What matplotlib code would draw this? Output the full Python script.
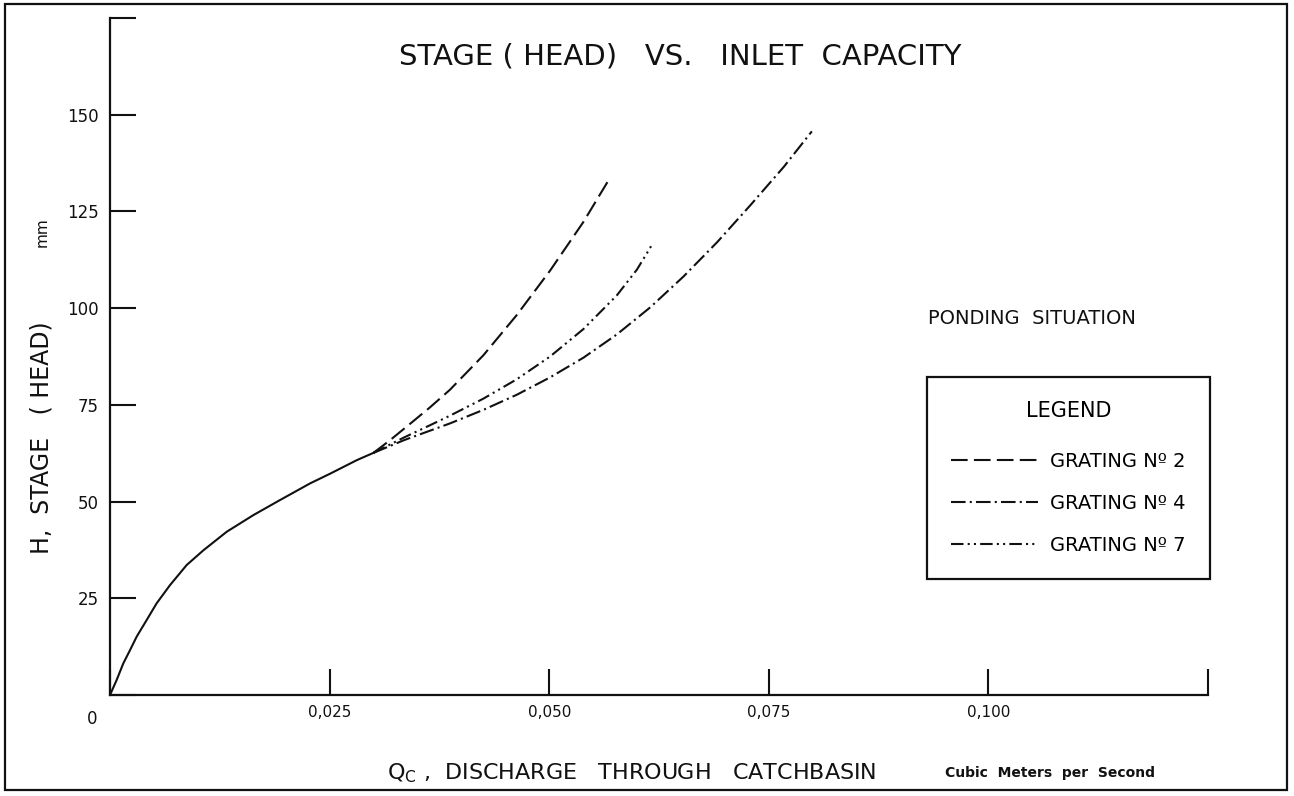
"""
plot.py

Stage (head) vs. inlet capacity for three catchbasin gratings, ponding case.
Values read off the scanned chart.
"""

import matplotlib

matplotlib.use("Agg")
import matplotlib.pyplot as plt
from matplotlib.patches import Rectangle

W, H = 1294, 796
INK = "#111111"
plt.rcParams["font.family"] = ["Liberation Sans Narrow", "DejaVu Sans"]

# common (solid) part of the curve, m3/s vs mm
q_common = [0, 0.00076, 0.00152, 0.00228, 0.00304, 0.00418, 0.00531, 0.00683,
            0.00873, 0.01063, 0.01329, 0.01632, 0.01936, 0.02278, 0.02505,
            0.02809, 0.0300]
h_common = [0, 3.9, 8.2, 11.6, 15.1, 19.4, 23.7, 28.4,
            33.6, 37.4, 42.2, 46.5, 50.4, 54.7, 57.2,
            60.7, 62.6]

q_grating2 = [0.0300, 0.0319, 0.0340, 0.0364, 0.0387, 0.0425, 0.0463,
              0.0501, 0.0539, 0.0569]
h_grating2 = [62.6, 65.9, 69.8, 74.3, 78.9, 87.8, 98.2, 109.7, 122.3, 133.6]

q_grating4 = [0.0300, 0.0335, 0.0364, 0.0387, 0.0425, 0.0463, 0.0501,
              0.0539, 0.0577, 0.0615, 0.0653, 0.0691, 0.0729, 0.0767, 0.0799]
h_grating4 = [62.6, 65.9, 68.3, 70.2, 73.7, 77.6, 82.1,
              87.2, 93.2, 100.2, 108.2, 117.0, 126.6, 136.5, 145.7]

q_grating7 = [0.0300, 0.0335, 0.0364, 0.0387, 0.0425, 0.0463, 0.0501,
              0.0539, 0.0577, 0.0600, 0.0616]
h_grating7 = [62.6, 66.6, 69.7, 72.2, 76.6, 81.6, 87.5,
              94.6, 103.3, 110.0, 116.0]

x_ticks = [0, 0.025, 0.050, 0.075, 0.100, 0.125]
x_labels = ["", "0,025", "0,050", "0,075", "0,100", ""]
y_ticks = [0, 25, 50, 75, 100, 125, 150, 175]
y_labels = ["", "25", "50", "75", "100", "125", "150", ""]


def fx(x):
    return x / W


def fy(y):
    return 1 - y / H


fig = plt.figure(figsize=(W / 100, H / 100), dpi=100)
fig.patch.set_facecolor("white")
fig.patches.append(Rectangle((fx(5), fy(790)), fx(1287) - fx(5), fy(4) - fy(790),
                             transform=fig.transFigure, fill=False,
                             edgecolor=INK, lw=1.6))

ax = fig.add_axes([fx(110), fy(695), fx(1208) - fx(110), fy(18) - fy(695)])
ax.set_xlim(0, 0.125)
ax.set_ylim(0, 175)
for s in ("top", "right"):
    ax.spines[s].set_visible(False)
for s in ("left", "bottom"):
    ax.spines[s].set_linewidth(1.6)
    ax.spines[s].set_color(INK)

ax.set_xticks(x_ticks)
ax.set_xticklabels(x_labels)
ax.set_yticks(y_ticks)
ax.set_yticklabels(y_labels)
ax.tick_params(axis="x", direction="in", length=19, width=1.5, pad=7,
               labelsize=11, colors=INK)
ax.tick_params(axis="y", direction="in", length=19, width=1.5, pad=8,
               labelsize=12, colors=INK)
ax.annotate("0", (0, 0), xytext=(-13, -17), textcoords="offset points",
            ha="center", va="center", fontsize=12, color=INK)

ax.plot(q_common, h_common, color=INK, lw=1.5)
ax.plot(q_grating2, h_grating2, color=INK, lw=1.5, dashes=(8, 3),
        label="GRATING Nº 2")
ax.plot(q_grating4, h_grating4, color=INK, lw=1.5, dashes=(7, 2, 1, 2),
        label="GRATING Nº 4")
ax.plot(q_grating7, h_grating7, color=INK, lw=1.5, dashes=(6, 2, 1, 2, 1, 2),
        label="GRATING Nº 7")

leg = ax.legend(loc="upper left",
                bbox_to_anchor=(fx(927), fy(377)), bbox_transform=fig.transFigure,
                title="LEGEND", title_fontsize=15, fontsize=14,
                handlelength=4.45, handletextpad=0.62, labelspacing=1.18,
                borderpad=1.25, borderaxespad=0, fancybox=False,
                edgecolor=INK, framealpha=1)
leg.get_frame().set_linewidth(1.6)
leg._legend_box.sep = 22

fig.text(fx(680), fy(57), "STAGE ( HEAD)   VS.   INLET  CAPACITY",
         ha="center", va="center", fontsize=21, color=INK)
fig.text(fx(42), fy(438), "H,  STAGE   ( HEAD)", rotation=90,
         ha="center", va="center", fontsize=17, color=INK)
fig.text(fx(42), fy(232), "mm", rotation=90,
         ha="center", va="center", fontsize=11, color=INK)
fig.text(fx(632), fy(773), r"Q$_\mathregular{C}$ ,  DISCHARGE   THROUGH   CATCHBASIN",
         ha="center", va="center", fontsize=16, color=INK)
fig.text(fx(1050), fy(773), "Cubic  Meters  per  Second",
         ha="center", va="center", fontsize=10, fontweight="bold", color=INK)
fig.text(fx(1032), fy(318), "PONDING  SITUATION",
         ha="center", va="center", fontsize=14, color=INK)

fig.savefig("out.png", dpi=100, facecolor="white")
